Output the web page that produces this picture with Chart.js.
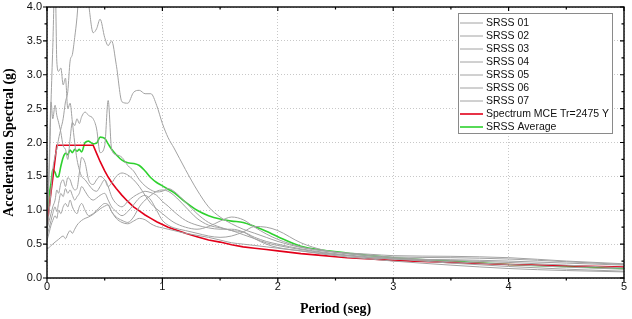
<!DOCTYPE html>
<html lang="en">
<head>
<meta charset="UTF-8">
<title>SRSS spectra</title>
<script src="https://cdn.jsdelivr.net/npm/chart.js@4.4.1/dist/chart.umd.min.js"></script>
<style>
  html, body { margin:0; padding:0; background:#fff; }
  #wrap { width:632px; height:319px; }
</style>
</head>
<body>
<div id="wrap"><canvas id="specChart" width="632" height="319"></canvas></div>
<script>
// period grid (s)
const periods = [0,0.02,0.035,0.05,0.07,0.085,0.1,0.12,0.14,0.16,
  0.18,0.2,0.22,0.24,0.26,0.28,0.3,0.33,0.36,0.4,
  0.43,0.46,0.5,0.53,0.56,0.6,0.65,0.7,0.75,0.8,
  0.85,0.9,0.95,1.0,1.05,1.1,1.2,1.3,1.4,1.5,
  1.6,1.7,1.8,1.9,2.0,2.2,2.4,2.6,2.8,3.0,
  3.5,4.0,4.5,5.0];

const srss01 = [0.70,1.00,1.30,1.60,1.80,1.90,2.05,2.20,2.35,2.60,
  2.75,3.20,3.30,3.55,3.85,4.30,4.60,4.40,4.05,3.62,
  3.68,3.82,3.55,3.43,3.50,3.15,2.60,2.58,2.74,2.77,
  2.72,2.72,2.55,2.28,2.07,1.92,1.60,1.30,1.05,0.90,
  0.80,0.72,0.66,0.60,0.54,0.45,0.40,0.36,0.33,0.30,
  0.26,0.23,0.19,0.15];
const srss02 = [0.75,1.60,2.60,3.40,4.50,3.20,3.05,3.10,2.85,2.95,
  2.50,2.58,2.30,2.00,1.75,1.60,1.50,1.45,1.38,1.30,
  1.28,1.35,1.45,1.35,1.20,1.10,1.05,1.13,1.20,1.25,
  1.28,1.26,1.22,1.13,1.06,0.98,0.85,0.78,0.74,0.72,
  0.72,0.68,0.58,0.50,0.45,0.40,0.36,0.33,0.30,0.28,
  0.27,0.25,0.22,0.19];
const srss03 = [0.65,1.80,2.60,2.35,2.55,2.40,2.30,2.15,1.95,1.90,
  1.75,2.05,2.30,2.25,2.35,2.28,2.38,2.45,2.40,2.35,
  2.20,1.85,1.95,2.62,1.90,1.82,1.78,1.66,1.58,1.45,
  1.36,1.30,1.27,1.28,1.32,1.28,1.12,0.95,0.82,0.75,
  0.70,0.68,0.60,0.54,0.50,0.43,0.38,0.34,0.31,0.29,
  0.24,0.20,0.16,0.13];
const srss04 = [0.72,0.85,0.95,1.05,1.15,1.30,1.25,1.40,1.45,1.35,
  1.48,1.45,1.35,1.30,1.32,1.55,1.78,1.70,1.45,1.38,
  1.45,1.50,1.45,1.35,1.40,1.50,1.55,1.52,1.45,1.35,
  1.22,1.10,1.02,0.95,0.88,0.82,0.75,0.72,0.76,0.84,
  0.90,0.86,0.75,0.65,0.57,0.46,0.40,0.37,0.35,0.33,
  0.32,0.30,0.25,0.21];
const srss05 = [0.62,0.75,0.85,0.95,1.05,0.98,1.10,1.25,1.20,1.32,
  1.25,1.30,1.22,1.15,1.20,1.25,1.35,1.28,1.20,1.15,
  1.18,1.22,1.25,1.15,1.05,0.98,0.92,0.98,1.08,1.18,
  1.22,1.15,1.00,0.85,0.78,0.74,0.70,0.66,0.62,0.60,
  0.62,0.68,0.76,0.75,0.70,0.52,0.41,0.36,0.33,0.31,
  0.30,0.28,0.24,0.20];
const srss06 = [0.55,0.68,0.78,0.85,0.92,0.88,1.00,0.95,1.05,1.10,
  1.05,1.15,1.05,0.98,0.95,1.05,1.10,1.00,0.92,0.95,
  1.00,1.05,1.10,1.08,0.98,0.90,0.85,0.82,0.90,1.05,
  1.15,1.22,1.28,1.30,1.28,1.22,1.05,0.88,0.78,0.74,
  0.70,0.64,0.58,0.52,0.48,0.42,0.37,0.33,0.30,0.28,
  0.22,0.17,0.13,0.10];
const srss07 = [0.43,0.45,0.48,0.50,0.53,0.55,0.57,0.60,0.62,0.58,
  0.65,0.70,0.66,0.72,0.78,0.82,0.85,0.88,0.90,0.94,
  0.98,1.02,1.06,1.08,0.98,0.88,0.82,0.80,0.84,0.88,
  0.86,0.80,0.76,0.74,0.72,0.70,0.66,0.63,0.60,0.56,
  0.52,0.50,0.48,0.46,0.44,0.40,0.35,0.31,0.28,0.25,
  0.19,0.14,0.11,0.09];
const mceSpectrum = [0.78,1.06,1.27,1.47,1.75,1.96,1.96,1.96,1.96,1.96,
  1.96,1.96,1.96,1.96,1.96,1.96,1.96,1.96,1.96,1.96,
  1.84,1.72,1.58,1.49,1.41,1.32,1.22,1.13,1.05,0.99,
  0.93,0.88,0.83,0.79,0.75,0.72,0.66,0.61,0.56,0.53,
  0.49,0.46,0.44,0.42,0.40,0.36,0.33,0.30,0.28,0.26,
  0.23,0.20,0.18,0.16];
const srssAverage = [0.95,1.25,1.40,1.60,1.56,1.49,1.50,1.65,1.78,1.84,
  1.82,1.89,1.85,1.90,1.87,1.90,1.86,2.00,2.02,1.98,
  1.99,2.08,2.06,1.98,1.90,1.82,1.74,1.70,1.69,1.66,
  1.58,1.48,1.41,1.36,1.31,1.26,1.12,1.00,0.92,0.87,
  0.84,0.82,0.76,0.69,0.61,0.47,0.41,0.37,0.33,0.30,
  0.25,0.20,0.17,0.14];

const grayNames = ['SRSS 01','SRSS 02','SRSS 03','SRSS 04','SRSS 05','SRSS 06','SRSS 07'];
const grayData = [srss01, srss02, srss03, srss04, srss05, srss06, srss07];

function pts(vals){ return periods.map((p,i) => ({x:p, y:vals[i]})); }

const datasets = grayNames.map((n,i) => ({
  label:n, data:pts(grayData[i]), borderColor:'#a2a2a2', borderWidth:1
}));
datasets.push({label:'Spectrum MCE Tr=2475 Y', data:pts(mceSpectrum), borderColor:'#e2001a', borderWidth:1.6, cubicInterpolationMode:'default', tension:0});
datasets.push({label:'SRSS Average', data:pts(srssAverage), borderColor:'#2ed12e', borderWidth:1.6});

// frame, mirrored ticks and legend box
const frame = {
  id:'frame',
  afterDraw(chart){
    const ctx = chart.ctx, a = chart.chartArea;
    const sx = chart.scales.x, sy = chart.scales.y;
    ctx.save();
    ctx.strokeStyle = '#000';
    ctx.lineWidth = 1.4;
    ctx.strokeRect(a.left, a.top, a.right - a.left, a.bottom - a.top);

    ctx.lineWidth = 1.2;
    ctx.beginPath();
    const xt = sx.ticks.map(t => t.value);
    xt.forEach((v,i) => {
      const px = sx.getPixelForValue(v);
      ctx.moveTo(px, a.bottom); ctx.lineTo(px, a.bottom + 4);
      ctx.moveTo(px, a.top); ctx.lineTo(px, a.top + 4);
      if (i < xt.length - 1){
        const m = sx.getPixelForValue((v + xt[i+1]) / 2);
        ctx.moveTo(m, a.bottom); ctx.lineTo(m, a.bottom + 2.5);
        ctx.moveTo(m, a.top); ctx.lineTo(m, a.top + 2.5);
      }
    });
    const yt = sy.ticks.map(t => t.value);
    yt.forEach((v,i) => {
      const py = sy.getPixelForValue(v);
      ctx.moveTo(a.left, py); ctx.lineTo(a.left - 4, py);
      ctx.moveTo(a.right, py); ctx.lineTo(a.right - 4, py);
      if (i < yt.length - 1){
        const m = sy.getPixelForValue((v + yt[i+1]) / 2);
        ctx.moveTo(a.left, m); ctx.lineTo(a.left - 2.5, m);
        ctx.moveTo(a.right, m); ctx.lineTo(a.right - 2.5, m);
      }
    });
    ctx.stroke();

    // legend
    const bx = 458, by = 13, bw = 154, bh = 120;
    ctx.fillStyle = '#fff';
    ctx.fillRect(bx, by, bw, bh);
    ctx.strokeStyle = '#8a8a8a';
    ctx.lineWidth = 1;
    ctx.strokeRect(bx + 0.5, by + 0.5, bw, bh);
    ctx.font = '10.5px "Liberation Sans", Arial, sans-serif';
    ctx.textBaseline = 'middle';
    chart.data.datasets.forEach((ds,i) => {
      const y = by + 10 + i * 13;
      ctx.strokeStyle = ds.borderColor;
      ctx.lineWidth = ds.borderWidth;
      ctx.beginPath();
      ctx.moveTo(bx + 2, y); ctx.lineTo(bx + 25, y);
      ctx.stroke();
      ctx.fillStyle = '#111';
      ctx.fillText(ds.label, bx + 28, y + 0.5);
    });
    ctx.restore();
  }
};

const ctx = document.getElementById('specChart').getContext('2d');
new Chart(ctx, {
  type:'line',
  data:{ datasets:datasets },
  options:{
    responsive:false,
    animation:false,
    events:[],
    layout:{ padding:{ top:7, right:8, left:0, bottom:0 } },
    elements:{
      point:{ radius:0 },
      line:{ cubicInterpolationMode:'monotone' }
    },
    plugins:{ legend:{ display:false }, tooltip:{ enabled:false } },
    scales:{
      x:{
        type:'linear', min:0, max:5,
        afterFit:s => { s.height = 41; s.paddingLeft = 0; s.paddingRight = 0; },
        ticks:{ stepSize:1, padding:2, color:'#111',
          font:{ family:'"Liberation Sans", Arial, sans-serif', size:11 } },
        grid:{ color:'#c8c8c8', drawTicks:false },
        border:{ display:false, dash:[1,2] },
        title:{ display:true, text:'Period (seg)', color:'#000', padding:{top:0,bottom:1},
          font:{ family:'"Liberation Serif", "Times New Roman", serif', size:14, weight:'bold' } }
      },
      y:{
        min:0, max:4,
        afterFit:s => { s.width = 47; s.paddingTop = 0; s.paddingBottom = 0; },
        ticks:{ stepSize:0.5, padding:5, color:'#111', callback:v => v.toFixed(1),
          font:{ family:'"Liberation Sans", Arial, sans-serif', size:11 } },
        grid:{ color:'#c8c8c8', drawTicks:false },
        border:{ display:false, dash:[1,2] },
        title:{ display:true, text:'Acceleration Spectral (g)', color:'#000', padding:{top:1,bottom:0},
          font:{ family:'"Liberation Serif", "Times New Roman", serif', size:14, weight:'bold' } }
      }
    }
  },
  plugins:[frame]
});
</script>
</body>
</html>
